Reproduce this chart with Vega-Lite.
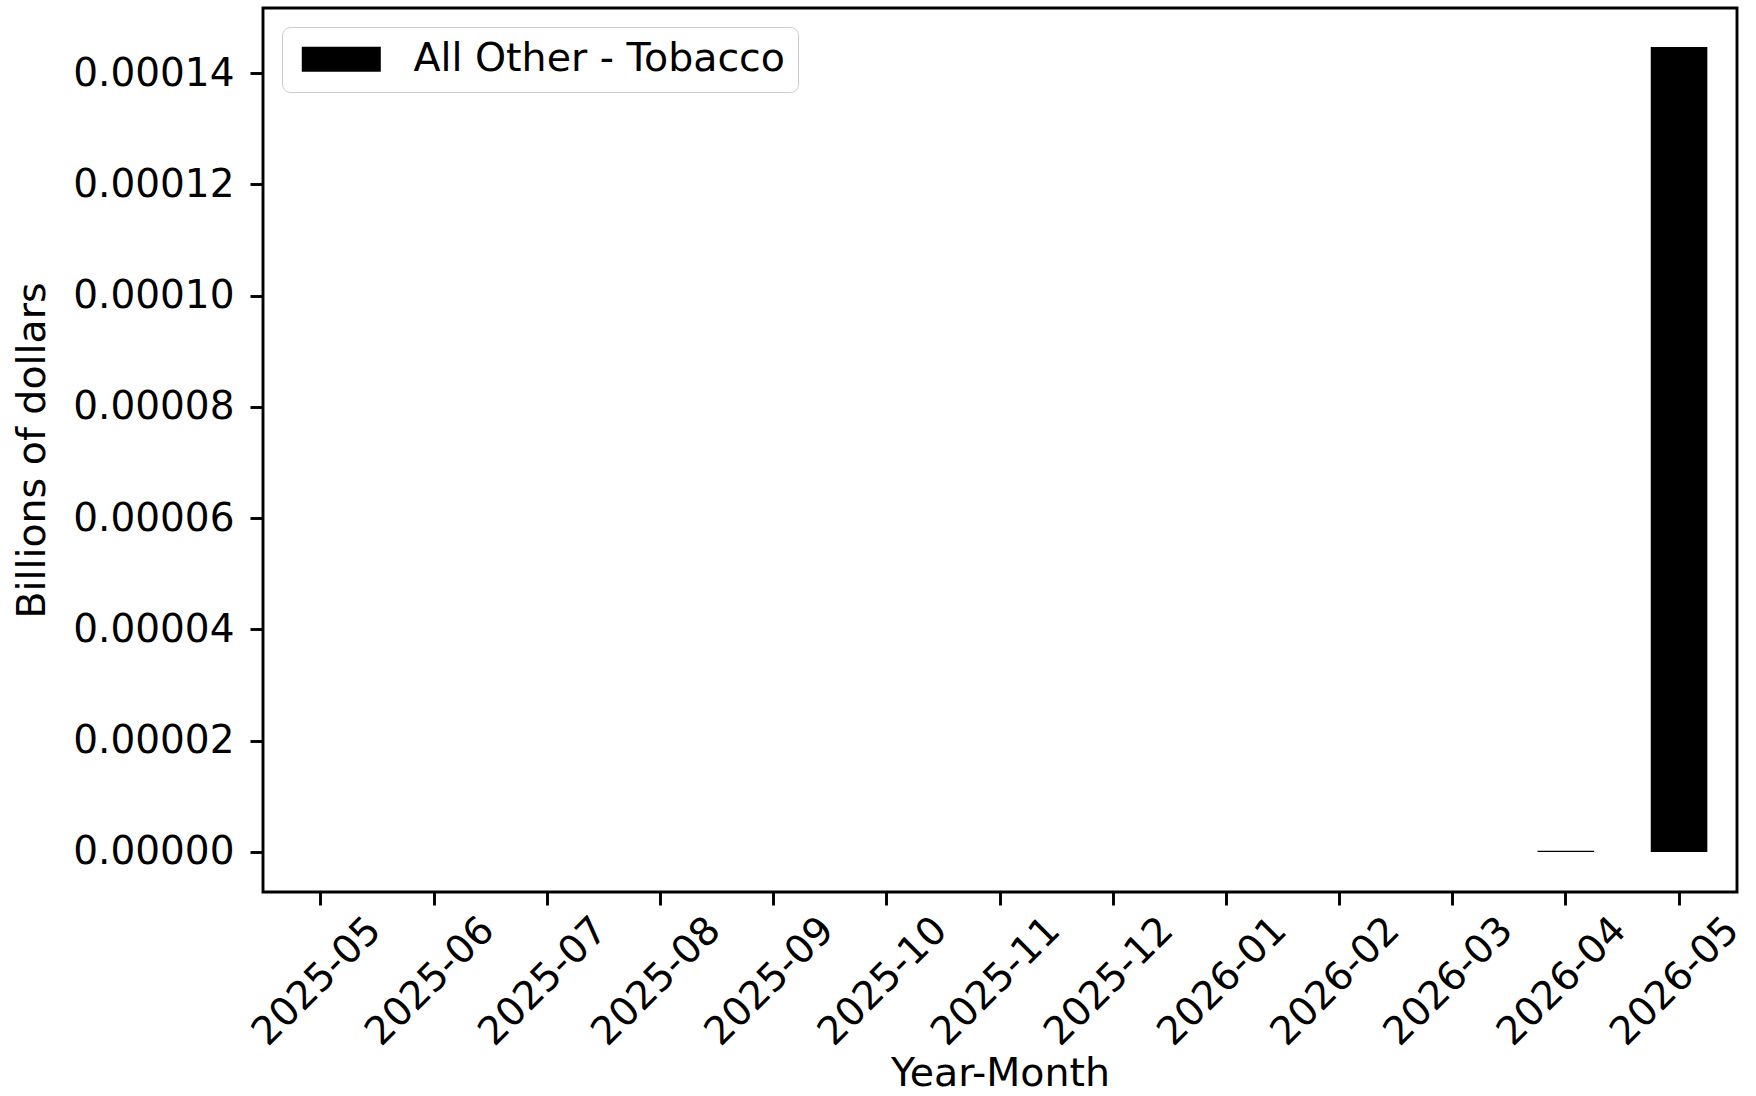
{
  "$schema": "https://vega.github.io/schema/vega-lite/v6.json",
  "autosize": {"type": "none"},
  "padding": {"left": 263, "top": 8, "right": 19, "bottom": 204},
  "width": 1474,
  "height": 884,
  "background": "white",
  "config": {
    "font": "DejaVu Sans",
    "view": {"stroke": "black", "strokeWidth": 2.9},
    "axis": {
      "labelFont": "DejaVu Sans",
      "titleFont": "DejaVu Sans",
      "labelColor": "black",
      "titleColor": "black",
      "tickColor": "black",
      "labelFontSize": 39,
      "titleFontSize": 39.5,
      "titleFontWeight": "normal",
      "tickSize": 13,
      "tickWidth": 2.9,
      "domain": false,
      "grid": false
    }
  },
  "data": {
    "values": [
      {"month": "2025-05", "value": 0, "series": "All Other - Tobacco"},
      {"month": "2025-06", "value": 0, "series": "All Other - Tobacco"},
      {"month": "2025-07", "value": 0, "series": "All Other - Tobacco"},
      {"month": "2025-08", "value": 0, "series": "All Other - Tobacco"},
      {"month": "2025-09", "value": 0, "series": "All Other - Tobacco"},
      {"month": "2025-10", "value": 0, "series": "All Other - Tobacco"},
      {"month": "2025-11", "value": 0, "series": "All Other - Tobacco"},
      {"month": "2025-12", "value": 0, "series": "All Other - Tobacco"},
      {"month": "2026-01", "value": 0, "series": "All Other - Tobacco"},
      {"month": "2026-02", "value": 0, "series": "All Other - Tobacco"},
      {"month": "2026-03", "value": 0, "series": "All Other - Tobacco"},
      {"month": "2026-04", "value": 0.0000002, "series": "All Other - Tobacco"},
      {"month": "2026-05", "value": 0.0001447, "series": "All Other - Tobacco"}
    ]
  },
  "mark": {"type": "bar"},
  "encoding": {
    "x": {
      "field": "month",
      "type": "ordinal",
      "scale": {"paddingInner": 0.5, "paddingOuter": 0.262},
      "axis": {
        "title": "Year-Month",
        "labelAngle": -45,
        "labelAlign": "center",
        "labelBaseline": "middle",
        "labelPadding": 76,
        "labelOffset": -4,
        "bandPosition": 0.5,
        "titlePadding": 2
      }
    },
    "y": {
      "field": "value",
      "type": "quantitative",
      "scale": {"domain": [-0.0000072, 0.0001517], "nice": false, "zero": false},
      "axis": {
        "title": "Billions of dollars",
        "values": [0, 0.00002, 0.00004, 0.00006, 0.00008, 0.0001, 0.00012, 0.00014],
        "format": ".5f",
        "labelPadding": 16,
        "titlePadding": 20
      }
    },
    "color": {
      "field": "series",
      "type": "nominal",
      "scale": {"range": ["black"]},
      "legend": {
        "title": null,
        "orient": "top-left",
        "offset": 19,
        "padding": 12.5,
        "cornerRadius": 8,
        "strokeColor": "#cccccc",
        "fillColor": "white",
        "symbolType": "M-0.96,-0.96H5.12V0.96H-0.96Z",
        "symbolSize": 676,
        "symbolStrokeWidth": 0,
        "labelFont": "DejaVu Sans",
        "labelFontSize": 39.5,
        "labelColor": "black",
        "labelOffset": 79.5,
        "labelLimit": 0
      }
    }
  }
}
